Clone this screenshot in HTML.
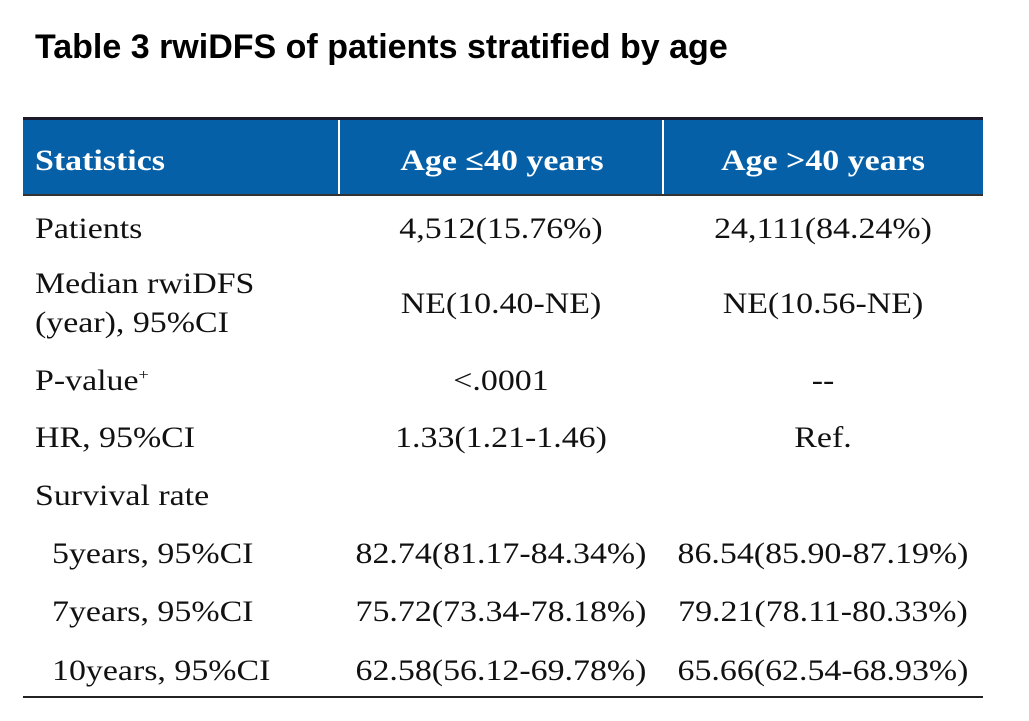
<!DOCTYPE html>
<html><head><meta charset="utf-8"><style>
body{margin:0;width:1029px;height:721px;background:#fff;position:relative;overflow:hidden}
.t{position:absolute;font-family:"Liberation Serif",serif;font-size:30px;color:#111;white-space:nowrap;line-height:1}
.c{transform:translate(-50%,-50%) scaleX(1.13)}
.l{transform-origin:0 50%;transform:translateY(-50%) scaleX(1.13)}
.h{color:#fff;font-weight:bold}
</style></head><body>
<div style="position:absolute;left:35px;top:29px;font-family:'Liberation Sans',sans-serif;font-weight:bold;font-size:34px;line-height:1.1;color:#000;white-space:nowrap">Table 3 rwiDFS of patients stratified by age</div>
<div style="position:absolute;left:23px;top:117px;width:960px;height:3px;background:#1a1a2a"></div>
<div style="position:absolute;left:23px;top:120px;width:960px;height:74px;background:#0560a8"></div>
<div style="position:absolute;left:23px;top:194px;width:960px;height:2px;background:#333"></div>
<div style="position:absolute;left:338px;top:120px;width:2px;height:74px;background:#fff"></div>
<div style="position:absolute;left:662px;top:120px;width:2px;height:74px;background:#fff"></div>
<div style="position:absolute;left:23px;top:696px;width:960px;height:2px;background:#222"></div>

<div class="t l h" style="left:35px;top:161px">Statistics</div>
<div class="t c h" style="left:502px;top:161px">Age ≤40 years</div>
<div class="t c h" style="left:823px;top:161px">Age &gt;40 years</div>

<div class="t l" style="left:35px;top:229px">Patients</div>
<div class="t c" style="left:501px;top:229px">4,512(15.76%)</div>
<div class="t c" style="left:823px;top:229px">24,111(84.24%)</div>

<div class="t l" style="left:35px;top:284px">Median rwiDFS</div>
<div class="t l" style="left:35px;top:323px">(year), 95%CI</div>
<div class="t c" style="left:501px;top:304px">NE(10.40-NE)</div>
<div class="t c" style="left:823px;top:304px">NE(10.56-NE)</div>

<div class="t l" style="left:35px;top:381px">P-value<sup style="font-size:16px;vertical-align:10px">+</sup></div>
<div class="t c" style="left:501px;top:381px">&lt;.0001</div>
<div class="t c" style="left:823px;top:381px">--</div>

<div class="t l" style="left:35px;top:438px">HR, 95%CI</div>
<div class="t c" style="left:501px;top:438px">1.33(1.21-1.46)</div>
<div class="t c" style="left:823px;top:438px">Ref.</div>

<div class="t l" style="left:35px;top:496px">Survival rate</div>

<div class="t l" style="left:52px;top:554px">5years, 95%CI</div>
<div class="t c" style="left:501px;top:554px">82.74(81.17-84.34%)</div>
<div class="t c" style="left:823px;top:554px">86.54(85.90-87.19%)</div>

<div class="t l" style="left:52px;top:612px">7years, 95%CI</div>
<div class="t c" style="left:501px;top:612px">75.72(73.34-78.18%)</div>
<div class="t c" style="left:823px;top:612px">79.21(78.11-80.33%)</div>

<div class="t l" style="left:52px;top:671px">10years, 95%CI</div>
<div class="t c" style="left:501px;top:671px">62.58(56.12-69.78%)</div>
<div class="t c" style="left:823px;top:671px">65.66(62.54-68.93%)</div>
</body></html>
